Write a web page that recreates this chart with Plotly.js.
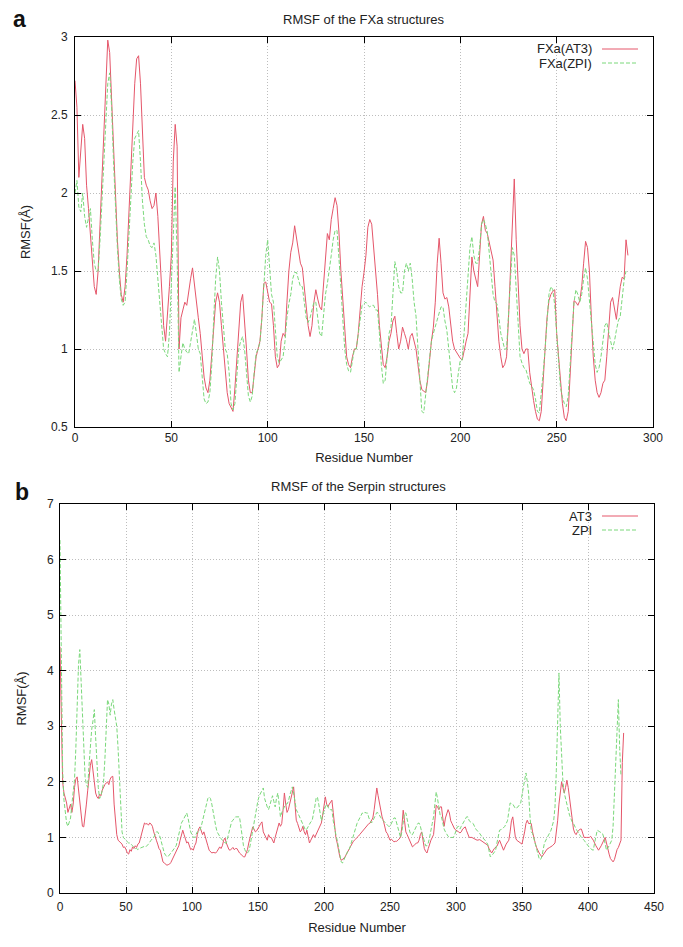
<!DOCTYPE html>
<html>
<head>
<meta charset="utf-8">
<script src="https://cdn.plot.ly/plotly-3.0.1.min.js"></script>
<style>html,body{margin:0;padding:0;background:#fff;}#chart{width:683px;height:947px;}</style>
</head>
<body>
<div id="chart"></div>
<script>
// ---- Panel a: RMSF of the FXa structures (residue = array index) ----
const fxaAT3 = [2.72,2.55,2.1,2.3,2.44,2.35,2.05,1.9,1.75,1.55,1.4,1.35,1.5,1.8,2.1,2.45,2.75,2.98,2.9,2.6,
2.25,1.95,1.7,1.5,1.35,1.3,1.4,1.6,1.9,2.2,2.5,2.7,2.86,2.88,2.7,2.4,2.1,2.05,2.02,1.95,
1.9,1.92,2.0,1.85,1.6,1.35,1.15,1.05,1.2,1.4,1.6,2.2,2.44,2.3,1.0,1.2,1.25,1.3,1.28,1.38,
1.45,1.52,1.4,1.3,1.2,1.1,0.95,0.82,0.75,0.72,0.8,0.95,1.15,1.3,1.36,1.3,1.15,1.0,0.85,0.72,
0.65,0.62,0.6,0.75,0.95,1.15,1.3,1.35,1.2,1.0,0.8,0.72,0.72,0.85,0.95,1.0,1.05,1.2,1.42,1.43,
1.35,1.3,1.29,1.15,0.95,0.88,0.9,1.05,1.1,1.08,1.3,1.5,1.62,1.68,1.79,1.7,1.62,1.55,1.52,1.4,
1.25,1.15,1.08,1.15,1.3,1.38,1.32,1.27,1.25,1.4,1.6,1.74,1.7,1.83,1.9,1.97,1.92,1.75,1.5,1.3,
1.1,0.95,0.9,0.88,0.95,1.0,1.0,1.1,1.25,1.4,1.49,1.6,1.78,1.83,1.8,1.65,1.55,1.35,1.15,1.0,
0.9,0.88,0.95,1.05,1.1,1.18,1.21,1.1,1.0,1.05,1.14,1.1,1.06,1.0,1.08,1.1,1.05,1.0,0.9,0.8,
0.74,0.73,0.72,0.8,0.95,1.05,1.14,1.3,1.55,1.71,1.55,1.36,1.32,1.33,1.27,1.15,1.05,1.0,0.98,0.96,
0.94,0.93,1.0,1.05,1.1,1.35,1.59,1.5,1.45,1.4,1.6,1.8,1.85,1.76,1.74,1.68,1.62,1.57,1.4,1.2,
1.05,0.95,0.88,0.9,0.95,1.2,1.5,1.72,2.09,1.7,1.36,1.15,1.0,0.97,1.0,1.0,0.85,0.75,0.67,0.6,
0.55,0.54,0.6,0.8,1.0,1.2,1.31,1.35,1.37,1.38,1.1,0.95,0.8,0.65,0.56,0.54,0.6,0.85,1.1,1.31,
1.3,1.28,1.31,1.4,1.55,1.69,1.65,1.5,1.2,0.95,0.8,0.72,0.69,0.72,0.78,0.8,0.95,1.1,1.3,1.33,
1.25,1.19,1.3,1.4,1.46,1.45,1.7,1.6];
const fxaZPI = [2.0,2.08,1.91,1.88,2.0,1.85,1.78,1.85,1.9,1.7,1.55,1.5,1.5,1.7,1.95,2.25,2.5,2.7,2.77,2.55,
2.2,1.9,1.65,1.45,1.32,1.28,1.3,1.5,1.75,2.0,2.2,2.35,2.38,2.4,2.2,1.95,1.8,1.72,1.7,1.66,
1.65,1.68,1.6,1.45,1.3,1.15,1.0,0.97,0.95,1.1,1.4,1.8,2.04,1.6,0.85,0.95,1.04,1.0,0.98,0.97,
1.05,1.12,1.19,1.1,1.0,0.97,0.8,0.68,0.65,0.66,0.72,0.9,1.2,1.45,1.59,1.5,1.3,1.15,1.0,0.97,
0.85,0.65,0.61,0.65,0.85,1.0,1.05,1.08,1.0,0.85,0.7,0.66,0.7,0.85,0.97,1.0,1.04,1.2,1.44,1.6,
1.7,1.55,1.35,1.3,1.1,0.95,0.91,0.93,0.95,1.05,1.2,1.29,1.35,1.45,1.49,1.49,1.45,1.4,1.4,1.3,
1.2,1.17,1.2,1.25,1.3,1.3,1.2,1.1,1.08,1.2,1.35,1.42,1.5,1.6,1.7,1.76,1.76,1.6,1.4,1.19,
1.0,0.9,0.86,0.85,0.92,1.0,1.0,1.1,1.2,1.28,1.29,1.3,1.28,1.27,1.28,1.28,1.25,1.25,1.1,0.9,
0.78,0.8,0.95,1.1,1.14,1.35,1.56,1.5,1.4,1.36,1.36,1.5,1.55,1.5,1.55,1.45,1.3,1.21,1.0,0.75,
0.6,0.59,0.7,0.85,0.95,1.05,1.1,1.15,1.19,1.23,1.27,1.27,1.18,1.12,1.0,0.85,0.75,0.72,0.75,0.85,
0.93,0.93,1.1,1.3,1.5,1.65,1.72,1.6,1.55,1.55,1.65,1.8,1.83,1.8,1.75,1.6,1.45,1.35,1.3,1.29,
1.2,1.1,1.05,1.0,1.0,1.2,1.45,1.65,1.6,1.4,1.15,0.95,0.91,0.88,0.87,0.82,0.78,0.76,0.74,0.68,
0.6,0.59,0.7,0.85,1.0,1.2,1.35,1.4,1.38,1.28,1.1,0.9,0.75,0.69,0.65,0.63,0.7,0.9,1.1,1.3,
1.38,1.35,1.3,1.35,1.45,1.52,1.45,1.3,1.15,1.0,0.9,0.85,0.88,0.95,1.05,1.15,1.17,1.1,1.05,1.0,
1.05,1.12,1.18,1.21,1.35,1.44,1.5];

// ---- Panel b: RMSF of the Serpin structures, [residue, RMSF] ----
const serpinAT3 = [[0,4.43],[1,3.2],[2,2.0],[3,1.8],[4,1.7],[5,1.62],[6,1.45],[7,1.55],[8,1.6],[9,1.45],[10,1.6],[11,1.9],[12,2.05],[13,2.09],[14,1.85],[15,1.6],[16,1.4],[17,1.2],[18,1.19],[19,1.35],
[20,1.6],[21,1.85],[22,2.1],[23,2.3],[24,2.4],[25,2.2],[26,2.0],[27,1.8],[28,1.73],[29,1.7],[30,1.78],[31,1.75],[32,1.85],[33,1.91],[34,1.95],[35,1.98],[36,2.0],[37,1.95],[38,2.05],[39,2.09],
[40,2.1],[41,1.6],[42,1.3],[43,1.05],[44,0.95],[45,0.92],[46,0.9],[47,0.88],[48,0.82],[49,0.83],[50,0.78],[51,0.72],[52,0.7],[53,0.78],[54,0.75],[55,0.83],[56,0.8],[57,0.85],[58,0.82],[59,0.88],
[60,0.9],[61,1.0],[62,1.1],[63,1.2],[64,1.26],[65,1.24],[66,1.25],[67,1.22],[68,1.26],[69,1.24],[70,1.2],[71,1.1],[72,1.0],[73,0.95],[74,0.88],[75,0.8],[76,0.77],[77,0.65],[78,0.56],[79,0.54],
[80,0.52],[81,0.5],[82,0.51],[83,0.52],[84,0.55],[85,0.6],[86,0.65],[87,0.7],[88,0.72],[89,0.78],[90,0.85],[91,0.95],[92,1.05],[93,1.13],[94,1.05],[95,0.95],[96,0.9],[97,0.92],[98,0.85],[99,0.78],
[100,0.8],[101,0.77],[102,0.85],[103,0.9],[104,1.05],[105,1.15],[106,1.19],[107,1.1],[108,1.05],[109,1.1],[110,1.0],[111,0.9],[112,0.85],[113,0.77],[114,0.75],[115,0.72],[116,0.73],[117,0.72],[118,0.72],[119,0.75],
[120,0.8],[121,0.83],[122,0.8],[123,0.85],[124,0.95],[125,0.99],[126,0.9],[127,0.85],[128,0.78],[129,0.77],[130,0.8],[131,0.82],[132,0.78],[133,0.8],[134,0.8],[135,0.75],[136,0.72],[137,0.7],[138,0.68],[139,0.65],
[140,0.65],[141,0.7],[142,0.78],[143,0.9],[144,1.0],[145,1.1],[146,1.19],[147,1.15],[148,1.1],[149,1.12],[150,1.15],[151,1.2],[152,1.25],[153,1.28],[154,1.1],[155,1.05],[156,1.0],[157,0.95],[158,1.05],[159,1.0],
[160,1.0],[161,0.95],[162,0.9],[163,1.0],[164,1.1],[165,1.2],[166,1.26],[167,1.2],[168,1.25],[169,1.5],[170,1.8],[171,1.6],[172,1.45],[173,1.5],[174,1.6],[175,1.75],[176,1.85],[177,1.91],[178,1.6],[179,1.31],
[180,1.25],[181,1.15],[182,1.1],[183,1.13],[184,1.2],[185,1.1],[186,1.05],[187,1.13],[188,1.0],[189,0.9],[190,0.95],[191,1.0],[192,1.05],[193,1.0],[194,1.05],[195,1.1],[196,1.15],[197,1.2],[198,1.26],[199,1.4],
[200,1.6],[201,1.73],[202,1.6],[203,1.55],[204,1.6],[205,1.65],[206,1.67],[207,1.45],[208,1.2],[209,1.0],[210,0.9],[211,0.75],[212,0.65],[213,0.59],[214,0.6],[215,0.63],[216,0.65],[217,0.7],[218,0.75],[219,0.8],
[220,0.85],[221,0.88],[222,0.92],[223,0.95],[224,0.97],[225,1.0],[226,1.02],[227,1.05],[228,1.08],[229,1.1],[230,1.13],[231,1.15],[232,1.2],[233,1.22],[234,1.25],[235,1.26],[236,1.3],[237,1.35],[238,1.5],[239,1.7],
[240,1.89],[241,1.75],[242,1.6],[243,1.45],[244,1.37],[245,1.3],[246,1.2],[247,1.1],[248,1.07],[249,1.0],[250,0.95],[251,0.97],[252,0.95],[253,0.92],[254,0.93],[255,0.93],[256,0.95],[257,0.98],[258,1.0],[259,1.2],
[260,1.49],[261,1.3],[262,1.1],[263,1.05],[264,1.0],[265,0.95],[266,0.88],[267,0.83],[268,0.85],[269,0.87],[270,0.9],[271,0.9],[272,0.95],[273,1.05],[274,1.1],[275,0.95],[276,0.8],[277,0.75],[278,0.72],[279,0.8],
[280,0.9],[281,0.95],[282,1.0],[283,1.05],[284,1.3],[285,1.58],[286,1.55],[287,1.5],[288,1.55],[289,1.55],[290,1.35],[291,1.2],[292,1.35],[293,1.45],[294,1.5],[295,1.44],[296,1.3],[297,1.25],[298,1.19],[299,1.15],
[300,1.13],[301,1.12],[302,1.1],[303,1.08],[304,1.1],[305,1.15],[306,1.18],[307,1.19],[308,1.12],[309,1.05],[310,1.0],[312,1.0],[314,0.97],[316,0.95],[318,0.96],[320,0.93],[322,0.9],[324,0.86],[325,0.8],[327,0.72],
[329,0.8],[331,0.84],[333,0.95],[335,0.82],[336,0.77],[338,0.88],[340,0.95],[341,1.1],[342,1.3],[343,1.37],[344,1.2],[345,1.0],[346,0.95],[348,0.92],[350,0.88],[352,1.1],[353,1.25],[354,1.31],[355,1.25],[357,1.25],
[358,1.1],[360,0.9],[361,0.82],[363,0.72],[365,0.65],[367,0.72],[369,0.79],[371,0.82],[373,0.85],[375,0.9],[376,1.07],[377,1.3],[378,1.6],[379,1.85],[380,2.0],[381,1.9],[382,1.8],[383,1.9],[384,2.03],[385,1.9],
[386,1.7],[387,1.5],[388,1.3],[389,1.15],[390,1.08],[391,1.05],[392,1.1],[393,1.12],[394,1.15],[395,1.15],[396,1.05],[397,1.0],[399,1.0],[401,1.0],[402,1.02],[404,0.95],[406,0.85],[408,0.77],[410,0.85],[412,0.95],
[413,1.0],[414,0.9],[415,0.77],[416,0.7],[417,0.62],[418,0.58],[419,0.56],[420,0.6],[421,0.7],[422,0.78],[423,0.82],[424,0.88],[425,0.95],[426,2.35],[427,2.88]];
const serpinZPI = [[0,6.35],[1,4.0],[2,2.2],[3,1.67],[4,1.4],[5,1.26],[6,1.2],[7,1.3],[8,1.35],[9,1.6],[10,1.8],[11,2.04],[12,2.6],[13,3.4],[14,4.1],[15,4.38],[16,3.8],[17,3.0],[18,2.5],[19,2.09],
[20,1.95],[21,1.9],[22,2.3],[23,2.7],[24,2.94],[25,3.1],[26,3.3],[27,2.8],[28,2.27],[29,1.9],[30,1.7],[31,1.75],[32,1.85],[33,2.0],[34,2.4],[35,3.0],[36,3.48],[37,3.4],[38,3.2],[39,3.4],
[40,3.48],[41,3.3],[42,3.1],[43,3.0],[44,2.6],[45,2.04],[46,1.5],[47,1.1],[48,1.0],[49,0.98],[50,0.95],[51,0.92],[52,0.9],[53,0.9],[54,0.88],[55,0.85],[56,0.82],[57,0.8],[58,0.8],[59,0.78],
[60,0.8],[62,0.82],[64,0.84],[65,0.83],[67,0.88],[69,0.95],[71,1.0],[72,1.05],[73,1.1],[74,1.1],[75,1.05],[76,1.0],[77,0.9],[78,0.8],[79,0.72],[80,0.68],[81,0.65],[82,0.66],[83,0.7],[84,0.72],
[85,0.75],[86,0.78],[87,0.8],[88,0.85],[89,0.95],[90,1.05],[91,1.15],[92,1.26],[93,1.3],[94,1.35],[95,1.4],[96,1.44],[97,1.35],[98,1.2],[99,1.1],[100,1.05],[101,1.0],[102,1.0],[103,1.05],[104,1.1],
[105,1.1],[106,1.13],[107,1.2],[108,1.3],[109,1.4],[110,1.5],[111,1.6],[112,1.7],[113,1.73],[114,1.7],[115,1.6],[116,1.45],[117,1.35],[118,1.2],[119,1.1],[120,1.05],[121,1.0],[122,0.98],[123,0.95],[124,0.92],
[125,0.9],[126,0.9],[127,1.0],[128,1.1],[129,1.2],[130,1.28],[131,1.31],[132,1.35],[133,1.37],[134,1.37],[135,1.37],[136,1.37],[137,1.2],[138,1.0],[139,0.85],[140,0.78],[141,0.73],[142,0.72],[143,0.75],[144,0.85],
[145,1.0],[146,1.15],[147,1.3],[148,1.4],[149,1.55],[150,1.67],[151,1.75],[152,1.8],[153,1.85],[154,1.89],[155,1.7],[156,1.6],[157,1.55],[158,1.5],[159,1.6],[160,1.7],[161,1.75],[162,1.65],[163,1.55],[164,1.7],
[165,1.8],[166,1.6],[167,1.37],[168,1.45],[169,1.5],[170,1.55],[171,1.6],[172,1.6],[173,1.65],[174,1.75],[175,1.85],[176,1.91],[177,1.8],[178,1.65],[179,1.5],[180,1.45],[181,1.4],[182,1.35],[183,1.3],[184,1.25],
[185,1.2],[186,1.13],[187,1.15],[188,1.2],[189,1.25],[190,1.28],[191,1.3],[192,1.4],[193,1.55],[194,1.7],[195,1.73],[196,1.6],[197,1.4],[198,1.3],[199,1.4],[200,1.5],[201,1.55],[202,1.6],[203,1.55],[204,1.5],
[205,1.5],[206,1.5],[207,1.3],[208,1.15],[209,1.05],[210,0.95],[211,0.8],[212,0.65],[213,0.56],[214,0.54],[215,0.6],[216,0.65],[217,0.7],[218,0.75],[219,0.77],[220,0.85],[221,0.95],[222,1.05],[223,1.1],[224,1.2],
[225,1.25],[226,1.3],[227,1.35],[228,1.4],[229,1.44],[230,1.42],[231,1.45],[232,1.44],[233,1.44],[234,1.35],[235,1.3],[236,1.26],[237,1.3],[238,1.35],[239,1.4],[240,1.45],[241,1.44],[242,1.4],[243,1.35],[244,1.32],
[245,1.3],[246,1.28],[247,1.25],[248,1.22],[249,1.2],[250,1.2],[251,1.25],[252,1.3],[253,1.35],[254,1.35],[255,1.25],[256,1.15],[257,1.05],[258,1.0],[259,1.1],[260,1.3],[261,1.44],[262,1.44],[263,1.3],[264,1.2],
[265,1.1],[266,1.05],[267,1.05],[268,1.1],[269,1.15],[270,1.2],[271,1.25],[272,1.26],[273,1.2],[274,1.1],[275,1.0],[276,0.9],[277,0.85],[278,0.85],[279,0.9],[280,1.0],[281,1.1],[282,1.25],[283,1.37],[284,1.6],
[285,1.82],[286,1.7],[287,1.5],[288,1.4],[289,1.37],[290,1.25],[291,1.15],[292,1.1],[293,1.05],[294,1.02],[295,1.0],[296,1.0],[297,1.0],[298,1.0],[299,1.05],[300,1.13],[301,1.19],[302,1.2],[303,1.15],[304,1.2],
[305,1.25],[306,1.3],[307,1.35],[308,1.37],[309,1.37],[310,1.3],[311,1.28],[313,1.25],[315,1.15],[317,1.1],[318,1.07],[320,1.0],[322,0.95],[324,0.88],[325,0.75],[326,0.65],[328,0.7],[330,0.77],[331,0.9],[332,1.05],
[333,1.13],[335,1.15],[337,1.2],[339,1.3],[340,1.45],[341,1.62],[343,1.6],[345,1.52],[347,1.55],[349,1.62],[351,1.9],[352,2.05],[353,2.16],[354,2.0],[355,1.8],[356,1.4],[357,1.1],[358,1.07],[360,0.9],[362,0.7],
[363,0.62],[364,0.6],[365,0.65],[367,0.9],[369,1.0],[371,1.1],[372,1.13],[374,1.3],[375,1.55],[376,2.2],[377,3.0],[378,3.96],[379,3.0],[380,2.5],[381,2.0],[382,1.8],[384,1.6],[386,1.4],[388,1.28],[389,1.25],
[391,1.15],[393,1.07],[395,1.0],[397,0.95],[399,0.88],[401,0.82],[403,0.78],[404,0.77],[405,0.9],[406,1.05],[407,1.13],[409,1.1],[411,1.07],[412,1.0],[413,0.85],[414,0.77],[416,0.85],[418,0.95],[419,1.2],[420,1.73],
[421,2.3],[422,3.0],[423,3.48],[424,2.6],[425,2.1]];

const seriesNames = {a: ['FXa(AT3)', 'FXa(ZPI)'], b: ['AT3', 'ZPI']};
const panelTitles = ['RMSF of the FXa structures', 'RMSF of the Serpin structures'];
const xLabel = 'Residue Number';
const yLabel = 'RMSF(Å)';

const RED = '#e5566a', GREEN = '#7ad87a';
const DASH = '4px,2px';
const idx = arr => arr.map((_, i) => i);

const traces = [
  {x: idx(fxaAT3), y: fxaAT3, name: seriesNames.a[0], type: 'scatter', mode: 'lines', line: {color: RED, width: 1}, xaxis: 'x', yaxis: 'y'},
  {x: idx(fxaZPI), y: fxaZPI, name: seriesNames.a[1], type: 'scatter', mode: 'lines', line: {color: GREEN, width: 1, dash: DASH}, xaxis: 'x', yaxis: 'y'},
  {x: serpinAT3.map(p => p[0]), y: serpinAT3.map(p => p[1]), name: seriesNames.b[0], type: 'scatter', mode: 'lines', line: {color: RED, width: 1}, xaxis: 'x2', yaxis: 'y2'},
  {x: serpinZPI.map(p => p[0]), y: serpinZPI.map(p => p[1]), name: seriesNames.b[1], type: 'scatter', mode: 'lines', line: {color: GREEN, width: 1, dash: DASH}, xaxis: 'x2', yaxis: 'y2'}
];

const SANS = 'Liberation Sans, Arial, sans-serif';
const tickFont = {family: SANS, size: 12, color: '#222'};
const titleFont = {family: SANS, size: 13, color: '#222'};
const yTitleFont = {family: SANS, size: 13, color: '#222'};
const legendFont = {family: SANS, size: 13, color: '#222'};
const letterFont = {family: SANS, size: 23, color: '#111'};

function axisBase(extra) {
  return Object.assign({
    showline: true, linecolor: '#000', linewidth: 1, mirror: 'allticks',
    ticks: 'inside', ticklen: 6, tickcolor: '#000', tickwidth: 1,
    showgrid: true, gridcolor: '#bdbdbd', griddash: '1px,2px', gridwidth: 1,
    zeroline: false, tickfont: tickFont, automargin: false, fixedrange: true
  }, extra);
}

const W = 683, H = 947;
const px = v => v / W, py = v => 1 - v / H;

const layout = {
  width: W, height: H, margin: {l: 0, r: 0, t: 0, b: 0},
  paper_bgcolor: '#fff', plot_bgcolor: '#fff', showlegend: false, font: tickFont,
  xaxis: axisBase({domain: [px(75), px(653)], range: [0, 300], dtick: 50, tick0: 0, anchor: 'y',
    title: {text: xLabel, font: titleFont, standoff: 8}}),
  yaxis: axisBase({domain: [py(427), py(37)], range: [0.5, 3], dtick: 0.5, tick0: 0.5, anchor: 'x',
    ticklabelstandoff: 4, title: {text: yLabel, font: yTitleFont, standoff: 17}}),
  xaxis2: axisBase({domain: [px(60), px(654)], range: [0, 450], dtick: 50, tick0: 0, anchor: 'y2',
    ticklabelstandoff: 3, title: {text: xLabel, font: titleFont, standoff: 9}}),
  yaxis2: axisBase({domain: [py(893), py(504)], range: [0, 7], dtick: 1, tick0: 0, anchor: 'x2',
    ticklabelstandoff: 3, title: {text: yLabel, font: yTitleFont, standoff: 17}}),
  annotations: [
    {text: panelTitles[0], xref: 'paper', yref: 'paper', x: px(364), y: py(19), showarrow: false, font: titleFont, xanchor: 'center', yanchor: 'middle'},
    {text: panelTitles[1], xref: 'paper', yref: 'paper', x: px(358), y: py(486), showarrow: false, font: titleFont, xanchor: 'center', yanchor: 'middle'},
    {text: '<b>a</b>', xref: 'paper', yref: 'paper', x: px(11), y: py(19), showarrow: false, font: letterFont, xanchor: 'left', yanchor: 'middle'},
    {text: '<b>b</b>', xref: 'paper', yref: 'paper', x: px(13), y: py(492), showarrow: false, font: letterFont, xanchor: 'left', yanchor: 'middle'},
    {text: seriesNames.a[0], xref: 'paper', yref: 'paper', x: px(594), y: py(49), showarrow: false, font: legendFont, xanchor: 'right', yanchor: 'middle'},
    {text: seriesNames.a[1], xref: 'paper', yref: 'paper', x: px(594), y: py(63), showarrow: false, font: legendFont, xanchor: 'right', yanchor: 'middle'},
    {text: seriesNames.b[0], xref: 'paper', yref: 'paper', x: px(594), y: py(516), showarrow: false, font: legendFont, xanchor: 'right', yanchor: 'middle'},
    {text: seriesNames.b[1], xref: 'paper', yref: 'paper', x: px(594), y: py(530), showarrow: false, font: legendFont, xanchor: 'right', yanchor: 'middle'}
  ],
  shapes: [
    {type: 'line', xref: 'paper', yref: 'paper', x0: px(602), x1: px(638), y0: py(49), y1: py(49), line: {color: RED, width: 1}},
    {type: 'line', xref: 'paper', yref: 'paper', x0: px(602), x1: px(638), y0: py(63), y1: py(63), line: {color: GREEN, width: 1, dash: DASH}},
    {type: 'line', xref: 'paper', yref: 'paper', x0: px(602), x1: px(638), y0: py(516), y1: py(516), line: {color: RED, width: 1}},
    {type: 'line', xref: 'paper', yref: 'paper', x0: px(602), x1: px(638), y0: py(530), y1: py(530), line: {color: GREEN, width: 1, dash: DASH}}
  ]
};

Plotly.newPlot('chart', traces, layout, {staticPlot: true, displayModeBar: false});
</script>
</body>
</html>
